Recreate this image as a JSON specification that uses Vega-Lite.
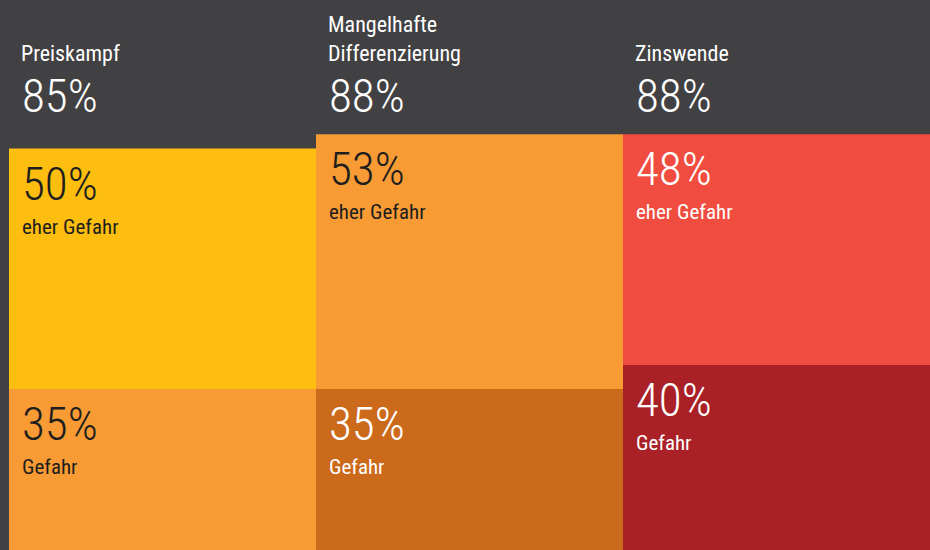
{
  "$schema": "https://vega.github.io/schema/vega-lite/v6.json",
  "width": 921,
  "height": 550,
  "autosize": {"type": "none"},
  "padding": {"left": 9, "top": 0, "right": 0, "bottom": 0},
  "background": "#414042",
  "config": {"view": {"stroke": null}, "font": "Roboto Condensed, Liberation Sans Narrow, Roboto"},
  "datasets": {
    "cells": [
      {"col": "Preiskampf", "level": "Gefahr", "segment": "P-G", "value": 0.35, "order": 1},
      {"col": "Preiskampf", "level": "eher Gefahr", "segment": "P-E", "value": 0.50, "order": 2},
      {"col": "Mangelhafte Differenzierung", "level": "Gefahr", "segment": "M-G", "value": 0.35, "order": 1},
      {"col": "Mangelhafte Differenzierung", "level": "eher Gefahr", "segment": "M-E", "value": 0.53, "order": 2},
      {"col": "Zinswende", "level": "Gefahr", "segment": "Z-G", "value": 0.40, "order": 1},
      {"col": "Zinswende", "level": "eher Gefahr", "segment": "Z-E", "value": 0.48, "order": 2}
    ],
    "heads": [
      {"col": "Preiskampf", "label": "\nPreiskampf", "total": 0.85},
      {"col": "Mangelhafte Differenzierung", "label": "Mangelhafte\nDifferenzierung", "total": 0.88},
      {"col": "Zinswende", "label": "\nZinswende", "total": 0.88}
    ]
  },
  "encoding": {
    "x": {
      "field": "col",
      "type": "nominal",
      "sort": ["Preiskampf", "Mangelhafte Differenzierung", "Zinswende"],
      "scale": {"paddingInner": 0, "paddingOuter": 0},
      "axis": null
    }
  },
  "layer": [
    {
      "data": {"name": "cells"},
      "transform": [
        {"stack": "value", "groupby": ["col"], "sort": [{"field": "order", "order": "ascending"}], "as": ["y0", "y1"]}
      ],
      "layer": [
        {
          "mark": {"type": "bar", "width": {"band": 1}, "clip": true},
          "encoding": {
            "y": {"field": "y1", "type": "quantitative", "scale": {"domain": [0.0154, 1.159], "zero": false, "nice": false}, "axis": null},
            "y2": {"field": "y0"},
            "color": {
              "field": "segment",
              "type": "nominal",
              "scale": {
                "domain": ["P-G", "P-E", "M-G", "M-E", "Z-G", "Z-E"],
                "range": ["#F89B34", "#FDBE10", "#CC6A1C", "#F89B34", "#A92126", "#F04C40"]
              },
              "legend": null
            }
          }
        },
        {
          "mark": {"type": "text", "align": "left", "baseline": "alphabetic", "dx": 13, "dy": 51, "fontSize": 47, "fontWeight": 300},
          "encoding": {
            "x": {"field": "col", "type": "nominal", "bandPosition": 0, "sort": ["Preiskampf", "Mangelhafte Differenzierung", "Zinswende"]},
            "y": {"field": "y1", "type": "quantitative"},
            "text": {"field": "value", "type": "quantitative", "format": ".0%"},
            "fill": {
              "field": "segment",
              "type": "nominal",
              "scale": {
                "domain": ["P-G", "P-E", "M-G", "M-E", "Z-G", "Z-E"],
                "range": ["#1E1E1E", "#1E1E1E", "#FFFFFF", "#1E1E1E", "#FFFFFF", "#FFFFFF"]
              },
              "legend": null
            }
          }
        },
        {
          "mark": {"type": "text", "align": "left", "baseline": "alphabetic", "dx": 13, "dy": 85, "fontSize": 21},
          "encoding": {
            "x": {"field": "col", "type": "nominal", "bandPosition": 0, "sort": ["Preiskampf", "Mangelhafte Differenzierung", "Zinswende"]},
            "y": {"field": "y1", "type": "quantitative"},
            "text": {"field": "level", "type": "nominal"},
            "fill": {"field": "segment", "type": "nominal", "legend": null}
          }
        }
      ]
    },
    {
      "data": {"name": "heads"},
      "layer": [
        {
          "mark": {"type": "text", "align": "left", "baseline": "alphabetic", "lineBreak": "\n", "lineHeight": 29, "dx": 12, "fontSize": 22, "color": "#FFFFFF"},
          "encoding": {
            "x": {"field": "col", "type": "nominal", "bandPosition": 0, "sort": ["Preiskampf", "Mangelhafte Differenzierung", "Zinswende"]},
            "y": {"datum": 1.092, "type": "quantitative"},
            "text": {"field": "label", "type": "nominal"}
          }
        },
        {
          "mark": {"type": "text", "align": "left", "baseline": "alphabetic", "dx": 13, "fontSize": 47, "fontWeight": 300, "color": "#FFFFFF"},
          "encoding": {
            "x": {"field": "col", "type": "nominal", "bandPosition": 0, "sort": ["Preiskampf", "Mangelhafte Differenzierung", "Zinswende"]},
            "y": {"datum": 0.926, "type": "quantitative"},
            "text": {"field": "total", "type": "quantitative", "format": ".0%"}
          }
        }
      ]
    }
  ]
}
